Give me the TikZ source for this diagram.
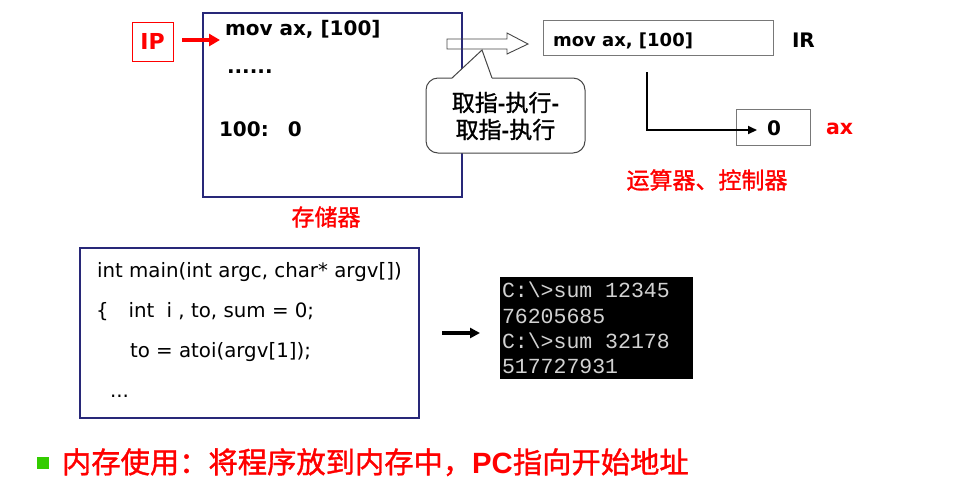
\documentclass[tikz,border=0pt]{standalone}
\usepackage{fontspec}
\setmainfont{DejaVu Sans}
\newfontfamily\cjk{Noto Sans CJK SC}[FakeBold=1.2]
\newfontfamily\arialf{Liberation Sans}
\newfontfamily\consolef{Liberation Mono}
\usetikzlibrary{arrows.meta}
\definecolor{navy}{RGB}{40,40,120}
\definecolor{boxgray}{RGB}{120,120,120}
\definecolor{callgray}{RGB}{70,70,70}
\definecolor{consfg}{RGB}{210,210,210}
\definecolor{bulletgreen}{RGB}{51,204,0}
\tikzset{
  plainbox/.style={draw, rectangle, inner sep=0pt, outer sep=0pt},
  membox/.style={plainbox, draw=navy, line width=1.1pt},
  graybox/.style={plainbox, draw=boxgray, line width=1pt},
  txt/.style={inner sep=0pt, outer sep=0pt, anchor=base west},
  boldtxt/.style={txt, font=\bfseries\fontsize{20}{23}\selectfont},
  codetxt/.style={txt, font=\fontsize{19.8}{23}\selectfont},
  constxt/.style={txt, text=consfg, font=\consolef\fontsize{21.5}{25}\selectfont},
  redcjk/.style={inner sep=0pt, outer sep=0pt, text=red, font=\cjk\fontsize{23}{27}\selectfont},
}
\begin{document}
\begin{tikzpicture}[x=1pt,y=-1pt]
\useasboundingbox (0,0) rectangle (960,491);

% memory box
\node[membox, minimum width=259pt, minimum height=184pt] (mem) at (332.5,105) {};
\node[boldtxt] (m1) at (225,35) {mov ax, [100]};
\node[boldtxt] (m2) at (227,73) {......};
\node[boldtxt] (m3) at (219,136) {100:\hspace*{19pt}0};
\node[redcjk] (memlbl) at (326,217) {存储器};

% IP
\node[plainbox, draw=red, line width=1pt, minimum width=41pt, minimum height=39pt,
      text=red, font=\bfseries\fontsize{22}{24}\selectfont] (ip) at (152.5,41.5) {IP};
\coordinate (iptip) at (220,40);
\draw[red, line width=4.5pt, shorten <=9pt, -{Triangle[length=11pt,width=12pt]}] (ip.east |- iptip) -- (iptip);

% hollow arrow
\coordinate (ha) at (447,44);
\draw[callgray, line width=0.9pt] (ha) ++(0,-5) -- ++(60,0) -- ++(0,-6) -- (528,44) -- (507,54) -- (507,49) -- (447,49) -- cycle;

% callout
\node[plainbox, draw=callgray, line width=1pt, fill=white, rounded corners=12pt,
      minimum width=159pt, minimum height=75pt] (callbox) at (505.5,115.5) {};
\coordinate (calltip) at (482,50);
\fill[white] (452,78.8) -- (calltip) -- (492,78.8) -- cycle;
\draw[callgray, line width=1pt] (452,78) -- (calltip) -- (492,78);
\node[inner sep=0pt, align=center, font=\cjk\fontsize{23}{27}\selectfont] (calltxt) at (505.5,116)
  {取指{\arialf\bfseries -}执行{\arialf\bfseries -}\\取指{\arialf\bfseries -}执行};

% IR
\node[graybox, minimum width=230pt, minimum height=35pt] (ir) at (658,37.5) {};
\node[txt, font=\bfseries\fontsize{18}{21}\selectfont] (irtxt) at (553,46) {mov ax, [100]};
\node[txt, font=\bfseries\fontsize{20}{22}\selectfont] (irlbl) at (792,47) {IR};

% ax
\node[graybox, minimum width=74pt, minimum height=36pt] (ax) at (773,127) {};
\node[inner sep=0pt, anchor=base, font=\bfseries\fontsize{20}{21}\selectfont] (axval) at (774,135) {0};
\node[txt, text=red, font=\bfseries\fontsize{20.5}{22}\selectfont] (axlbl) at (826,134) {ax};
\coordinate (lstart) at (647,72);
\coordinate (lend) at (757,130);
\draw[line width=2pt, -{Triangle[length=9pt,width=8pt]}] (lstart) |- (lend);
\node[redcjk] (alu) at (707,180) {运算器、控制器};

% code box
\node[membox, minimum width=339pt, minimum height=170pt] (code) at (249.5,333) {};
\node[codetxt] (c1) at (97,277) {int main(int argc, char* argv[])};
\node[codetxt] (c2) at (96,317) {\{\hspace*{20pt}int\hspace*{6pt} i , to, sum = 0;};
\node[codetxt] (c3) at (130,357) {to = atoi(argv[1]);};
\node[codetxt] (c4) at (110,397) {...};

% console
\node[plainbox, fill=black, minimum width=192pt, minimum height=101pt] (cons) at (596,327.5) {};
\node[constxt] (k1) at (502,297) {C:\textbackslash>sum 12345};
\node[constxt] (k2) at (502,323) {76205685};
\node[constxt] (k3) at (502,348) {C:\textbackslash>sum 32178};
\node[constxt] (k4) at (502,373) {517727931};
\draw[line width=3.5pt, shorten <=23pt, shorten >=20pt, -{Triangle[length=10pt,width=10pt]}] (code.east) -- (code.east -| cons.west);

% bottom line
\fill[bulletgreen] (37,457) rectangle (49,469);
\node[txt, text=red, font=\cjk\fontsize{29.3}{32}\selectfont] (note) at (62,473)
  {内存使用：将程序放到内存中，{\arialf\bfseries PC}指向开始地址};
\end{tikzpicture}
\end{document}
